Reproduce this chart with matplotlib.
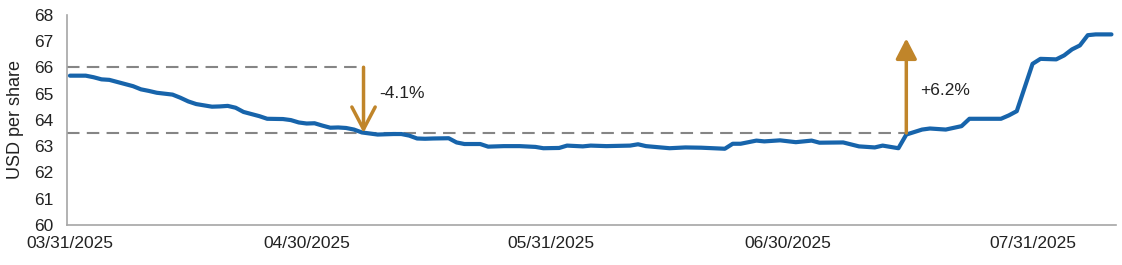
import matplotlib
matplotlib.use('Agg')
import matplotlib.pyplot as plt
import matplotlib.dates as mdates
import pandas as pd

plt.rcParams['font.family'] = ['Liberation Sans', 'DejaVu Sans']

# 주가 데이터
dates = [
    '2025-03-31', '2025-04-02', '2025-04-03', '2025-04-04', '2025-04-05', '2025-04-06',
    '2025-04-08', '2025-04-09', '2025-04-10', '2025-04-11', '2025-04-13', '2025-04-14',
    '2025-04-15', '2025-04-16', '2025-04-17', '2025-04-18', '2025-04-19', '2025-04-20',
    '2025-04-21', '2025-04-22', '2025-04-23', '2025-04-24', '2025-04-25', '2025-04-27',
    '2025-04-28', '2025-04-29', '2025-04-30', '2025-05-01', '2025-05-02', '2025-05-03',
    '2025-05-04', '2025-05-05', '2025-05-06', '2025-05-07', '2025-05-09', '2025-05-11',
    '2025-05-12', '2025-05-13', '2025-05-14', '2025-05-15', '2025-05-16', '2025-05-18',
    '2025-05-19', '2025-05-20', '2025-05-22', '2025-05-23', '2025-05-25', '2025-05-27',
    '2025-05-29', '2025-05-30', '2025-06-01', '2025-06-02', '2025-06-04', '2025-06-05',
    '2025-06-07', '2025-06-10', '2025-06-11', '2025-06-12', '2025-06-15', '2025-06-17',
    '2025-06-19', '2025-06-22', '2025-06-23', '2025-06-24', '2025-06-26', '2025-06-27',
    '2025-06-29', '2025-07-01', '2025-07-03', '2025-07-04', '2025-07-07', '2025-07-09',
    '2025-07-11', '2025-07-12', '2025-07-14', '2025-07-15', '2025-07-17', '2025-07-18',
    '2025-07-20', '2025-07-22', '2025-07-23', '2025-07-25', '2025-07-27', '2025-07-28',
    '2025-07-29', '2025-07-30', '2025-07-31', '2025-08-01', '2025-08-03', '2025-08-04',
    '2025-08-05', '2025-08-06', '2025-08-07', '2025-08-08', '2025-08-10',
]
prices = [
    65.68, 65.68, 65.62, 65.54, 65.52, 65.44,
    65.28, 65.16, 65.10, 65.03, 64.96, 64.84,
    64.70, 64.60, 64.55, 64.50, 64.51, 64.53,
    64.46, 64.30, 64.22, 64.14, 64.04, 64.03,
    63.99, 63.90, 63.86, 63.87, 63.78, 63.70,
    63.71, 63.69, 63.63, 63.52, 63.44, 63.46,
    63.46, 63.40, 63.29, 63.28, 63.29, 63.30,
    63.14, 63.08, 63.08, 62.98, 63.00, 63.00,
    62.97, 62.92, 62.93, 63.02, 62.99, 63.02,
    63.00, 63.02, 63.07, 63.00, 62.92, 62.95,
    62.94, 62.90, 63.09, 63.09, 63.21, 63.18,
    63.22, 63.15, 63.21, 63.13, 63.14, 62.99,
    62.95, 63.02, 62.92, 63.44, 63.63, 63.67,
    63.63, 63.76, 64.04, 64.04, 64.04, 64.17,
    64.33, 65.23, 66.13, 66.32, 66.30, 66.45,
    66.68, 66.83, 67.22, 67.25, 67.25,
]

# x축 눈금
tick_dates = ['2025-03-31', '2025-04-30', '2025-05-31', '2025-06-30', '2025-07-31']

# 주석 (하락/상승 화살표)
drop_date = '2025-05-07'
drop_from, drop_to = 66.0, 63.5
drop_label = '-4.1%'
rise_date = '2025-07-15'
rise_from, rise_to = 63.5, 67.1
rise_label = '+6.2%'

x = pd.to_datetime(dates)
ticks = pd.to_datetime(tick_dates)
xmin = pd.Timestamp('2025-03-31') - pd.Timedelta(hours=9)
xmax = pd.Timestamp('2025-08-10') + pd.Timedelta(hours=14)
d_drop = pd.Timestamp(drop_date) + pd.Timedelta(hours=5)
d_rise = pd.Timestamp(rise_date)

line_color = '#1764AB'
arrow_color = '#C0852A'
dash_color = '#858585'
text_color = '#222222'

fig = plt.figure(figsize=(11.22, 2.65), dpi=100)
ax = fig.add_axes([0.0597, 0.151, 0.935, 0.7936])

# 기준 점선
ax.plot([xmin, d_drop], [drop_from, drop_from], color=dash_color, lw=1.5,
        dashes=(6, 3.5), zorder=1)
ax.plot([xmin, d_rise], [rise_from, rise_from], color=dash_color, lw=1.5,
        dashes=(6, 3.5), zorder=1)

# 주가 선
ax.plot(x, prices, color=line_color, lw=3, solid_capstyle='round', zorder=3)

# 화살표
ax.annotate('', xy=(d_drop, drop_to), xytext=(d_drop, drop_from),
            arrowprops=dict(arrowstyle='->,head_length=0.8,head_width=0.42',
                            color=arrow_color, lw=2.5, mutation_scale=20,
                            shrinkA=0, shrinkB=0), zorder=4)
ax.annotate('', xy=(d_rise, rise_to), xytext=(d_rise, rise_from),
            arrowprops=dict(arrowstyle='-|>,head_length=0.62,head_width=0.32',
                            color=arrow_color, lw=2.5, mutation_scale=20,
                            shrinkA=0, shrinkB=0), zorder=4)
ax.text(d_drop + pd.Timedelta(days=2), 65.0, drop_label, fontsize=12.5,
        color=text_color, va='center', ha='left')
ax.text(d_rise + pd.Timedelta(days=1.7), 65.1, rise_label, fontsize=12.5,
        color=text_color, va='center', ha='left')

# 축 설정
ax.set_xlim(xmin, xmax)
ax.set_ylim(60, 68)
ax.set_yticks(range(60, 69))
ax.set_xticks(ticks)
ax.xaxis.set_major_formatter(mdates.DateFormatter('%m/%d/%Y'))
ax.tick_params(axis='both', length=0, labelsize=12.5, labelcolor=text_color)
ax.tick_params(axis='y', pad=10)
ax.tick_params(axis='x', pad=8)
ax.set_ylabel('USD per share', fontsize=13, color=text_color, labelpad=7)

for side in ['top', 'right']:
    ax.spines[side].set_visible(False)
for side in ['left', 'bottom']:
    ax.spines[side].set_color('#A6A6A6')
    ax.spines[side].set_linewidth(1.2)

fig.savefig('out.png', dpi=100)
